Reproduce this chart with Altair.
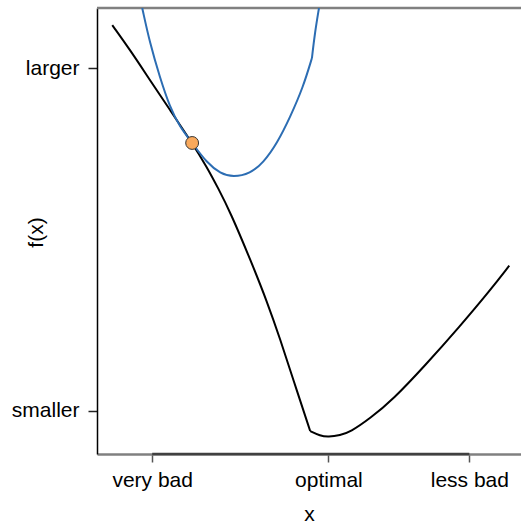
import altair as alt
import pandas as pd

# ---- data ----
# black curve, left branch (down to the kink) and right branch (from the kink)
black_left_x = [-3.68, -3.375, -3.04, -2.70, -2.32, -2.07, -1.88, -1.67, -1.33, -1.04,
                -0.82, -0.60, -0.31]
black_left_y = [11.26, 10.53, 9.66, 8.79, 7.82, 7.12, 6.51, 5.80, 4.42, 3.17,
                2.09, 0.92, -0.59]
black_right_x = [-0.31, -0.14, 0.0, 0.20, 0.37, 0.71, 1.10, 1.65, 2.24, 2.75, 3.08]
black_right_y = [-0.59, -0.73, -0.76, -0.71, -0.62, -0.22, 0.33, 1.33, 2.47, 3.51, 4.24]

# blue curve (local quadratic model), main part and the steep part after its kink
blue_main_x = [-3.17, -3.04, -2.87, -2.70, -2.53, -2.32, -2.07, -1.84, -1.62, -1.33,
               -1.11, -0.87, -0.65, -0.43, -0.28]
blue_main_y = [11.76, 10.74, 9.74, 8.87, 8.29, 7.82, 7.24, 6.93, 6.82, 6.93,
               7.24, 7.82, 8.58, 9.45, 10.30]
blue_tail_x = [-0.28, -0.23, -0.16]
blue_tail_y = [10.30, 11.03, 11.76]

point_x = [-2.32]
point_y = [7.82]

x_tick_values = [-3, 0, 2.4]
x_tick_labels = ["very bad", "optimal", "less bad"]
y_tick_values = [0, 10]
y_tick_labels = ["smaller", "larger"]

X_DOMAIN = [-3.94, 3.28]
Y_DOMAIN = [-1.26, 11.76]

W, H = 424, 446
FONT = "Liberation Sans"


def label_expr(values, labels):
    expr = "''"
    for v, l in zip(reversed(values), reversed(labels)):
        expr = f"datum.value == {v} ? '{l}' : ({expr})"
    return expr


def seg_df(parts):
    frames = []
    for i, (xs, ys) in enumerate(parts):
        frames.append(pd.DataFrame({"x": xs, "y": ys, "seg": i}))
    return pd.concat(frames, ignore_index=True)


black_df = seg_df([(black_left_x, black_left_y), (black_right_x, black_right_y)])
blue_df = seg_df([(blue_main_x, blue_main_y), (blue_tail_x, blue_tail_y)])
pt_df = pd.DataFrame({"x": point_x, "y": point_y})

x_enc = alt.X(
    "x:Q",
    scale=alt.Scale(domain=X_DOMAIN, nice=False, zero=False),
    axis=alt.Axis(
        values=x_tick_values,
        labelExpr=label_expr(x_tick_values, x_tick_labels),
        title="x",
        grid=False,
        domainColor="#808080",
        domainWidth=2.5,
        tickColor="#555555",
        tickWidth=1.5,
        tickSize=8,
        labelFont=FONT,
        labelFontSize=21,
        labelColor="black",
        labelBaseline="alphabetic",
        labelPadding=24,
        labelFlush=False,
        labelOverlap=False,
        titleFont=FONT,
        titleFontSize=21,
        titleFontWeight="normal",
        titleColor="black",
        titleBaseline="alphabetic",
        titleY=66,
    ),
)

y_enc = alt.Y(
    "y:Q",
    scale=alt.Scale(domain=Y_DOMAIN, nice=False, zero=False),
    axis=alt.Axis(
        values=y_tick_values,
        labelExpr=label_expr(y_tick_values, y_tick_labels),
        title="f(x)",
        grid=False,
        domainColor="black",
        domainWidth=1.5,
        tickColor="#222222",
        tickWidth=1.5,
        tickSize=9,
        labelFont=FONT,
        labelFontSize=21,
        labelColor="black",
        labelPadding=9,
        labelFlush=False,
        labelOverlap=False,
        titleFont=FONT,
        titleFontSize=21,
        titleFontWeight="normal",
        titleColor="black",
        titleAngle=-90,
        titleAlign="center",
        titleBaseline="alphabetic",
        titleX=-55,
        titleY=224,
    ),
)

black_line = alt.Chart(black_df).mark_line(
    color="black", strokeWidth=2, clip=True, interpolate="basis"
).encode(x=x_enc, y=y_enc, detail="seg:N")
blue_line = alt.Chart(blue_df).mark_line(
    color="#2C6DB3", strokeWidth=2, clip=True, interpolate="basis"
).encode(x="x:Q", y="y:Q", detail="seg:N")
point = alt.Chart(pt_df).mark_point(
    filled=True, fill="#F9A95C", stroke="#333333", strokeWidth=1, size=165, opacity=1, shape="circle"
).encode(x="x:Q", y="y:Q")

top_rule = alt.Chart(pt_df).mark_rule(color="#808080", strokeWidth=2.5).encode(
    x=alt.value(0), x2=alt.value(W), y=alt.value(0)
)
bottom_dark = alt.Chart(pt_df).mark_rule(color="#404040", strokeWidth=2.5).encode(
    x=alt.datum(x_tick_values[0]), x2=alt.datum(x_tick_values[-1]), y=alt.value(H)
)

chart = alt.layer(top_rule, bottom_dark, black_line, blue_line, point).properties(
    width=W,
    height=H,
    autosize="none",
    padding={"left": 97, "top": 8, "right": 0, "bottom": 69},
    background="white",
).configure_view(stroke=None)

chart.save("out.html", embed_options={"renderer": "svg", "actions": False})
